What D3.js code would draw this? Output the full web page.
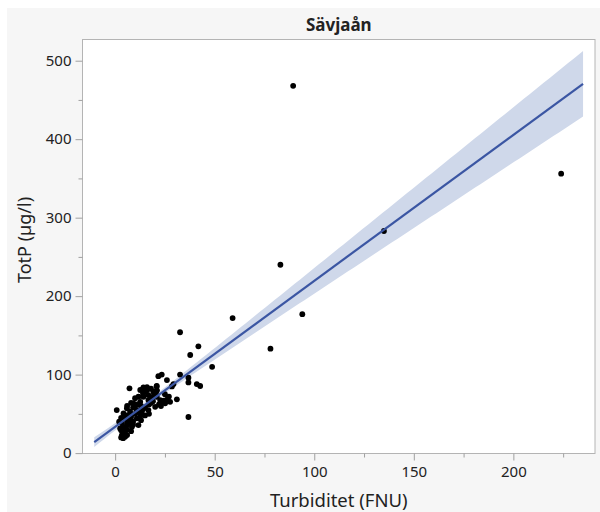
<!DOCTYPE html>
<html>
<head>
<meta charset="utf-8">
<script src="https://cdn.jsdelivr.net/npm/d3@7"></script>
<style>
  html, body { margin: 0; padding: 0; background: #ffffff; }
  svg { display: block; }
  text { font-family: "Noto Sans", "Open Sans", sans-serif; fill: #222; }
</style>
</head>
<body>
<svg id="chart" width="600" height="512"></svg>
<script>
// Sävjaån: total phosphorus vs. turbidity, with linear fit and 95% confidence band
const chartTitle = "Sävjaån";
const xLabel = "Turbiditet (FNU)";
const yLabel = "TotP (µg/l)";

const xTicks = [0, 50, 100, 150, 200];
const xMinorTicks = [25, 75, 125, 175, 225];
const yTicks = [0, 100, 200, 300, 400, 500];
const yMinorTicks = [50, 150, 250, 350, 450];

// Turbidity (FNU) per sample
const turbidity = [
  89.4, 224, 135, 83, 94, 59, 78, 32.6, 41.8, 37.7, 48.7, 36.8,
  32.6, 23.4, 21.7, 26, 36.8, 36.8, 41, 42.7, 29.3, 28.5, 31, 24.7, 23, 20.8, 21, 20.5,
  7.2, 14.2, 12.6, 20.9, 11.7, 14.2, 16.7, 19.2, 20.9, 22.6, 24.2, 27.6, 25.1, 9.2,
  12.6, 16.7, 5.9, 7.5, 10.9, 13.4, 16.7, 20.1, 4.2, 5, 7.5, 10.9, 12.6, 3.4,
  5.9, 8.4, 2.5, 4.2, 3.4, 5, 11.7, 0.8,
  6, 8, 9, 10, 11, 13, 15, 17, 18, 19, 14, 15, 16, 18, 19, 6, 7, 9, 10, 12, 14,
  3, 4, 6, 8, 9, 2, 13, 15, 17, 22, 23, 26, 18, 16, 10, 8, 6, 25, 27, 3, 5, 6, 3, 4
];
// Total phosphorus (µg/l) per sample
const totP = [
  468, 356, 283, 240, 177, 172, 133, 154, 136, 125, 110, 46,
  100, 100, 98, 93, 96, 90, 88, 85.5, 88, 85, 68.5, 65.4, 65.4, 85, 80, 77,
  82.5, 83.8, 80.4, 85.5, 71.8, 71.8, 74, 78.2, 71.8, 67.6, 66.7, 65.4, 63.4, 63.4,
  65.4, 67.6, 57, 52.7, 54.8, 50.5, 54.8, 59, 50.5, 44.3, 42.1, 44.3, 47.2, 37.9,
  35.7, 33.5, 31.5, 27.2, 23, 25.1, 35.7, 54.8,
  48, 46, 58, 60, 62, 60, 58, 62, 64, 66, 76, 78, 80, 70, 72, 40, 38, 40, 50, 52, 56,
  45, 33, 30, 28, 36, 40, 42, 48, 50, 62, 60, 68, 82, 84, 70, 64, 60, 75, 72, 29, 21, 23, 20, 19
];

// Linear fit TotP = intercept + slope * turbidity, and confidence band parameters
const fitIntercept = 33.5;
const fitSlope = 1.86;
const fitRange = [-10.5, 235];
const bandSeAtMean = 3.5;     // half-width of band at mean turbidity
const bandSeSlope = 0.19;     // growth of half-width per unit distance from mean
const turbidityMean = 16;

const W = 600, H = 512;
const frame = { left: 82.5, right: 595, top: 39.5, bottom: 453.5 };

const svg = d3.select("#chart");

// light panel behind the chart
svg.append("rect").attr("x", 7).attr("y", 8).attr("width", W - 7).attr("height", H - 8)
  .attr("fill", "#f6f6f6");

const x = d3.scaleLinear().domain([-16.4, 241]).range([frame.left, frame.right]);
const y = d3.scaleLinear().domain([-0.5, 527]).range([frame.bottom, frame.top]);

// plot area
svg.append("rect")
  .attr("x", frame.left).attr("y", frame.top)
  .attr("width", frame.right - frame.left).attr("height", frame.bottom - frame.top)
  .attr("fill", "#ffffff");

svg.append("defs").append("clipPath").attr("id", "plotClip")
  .append("rect")
  .attr("x", frame.left).attr("y", frame.top)
  .attr("width", frame.right - frame.left).attr("height", frame.bottom - frame.top);

const plot = svg.append("g").attr("clip-path", "url(#plotClip)");

// confidence band
const fitX = d3.range(0, 101).map(i => fitRange[0] + (fitRange[1] - fitRange[0]) * i / 100);
const halfWidth = t => Math.sqrt(bandSeAtMean ** 2 + (bandSeSlope * (t - turbidityMean)) ** 2);
const fitY = t => fitIntercept + fitSlope * t;

plot.append("path")
  .datum(fitX)
  .attr("fill", "#cfd8ea")
  .attr("d", d3.area()
    .x(t => x(t))
    .y0(t => y(fitY(t) - halfWidth(t)))
    .y1(t => y(fitY(t) + halfWidth(t))));

// data points
plot.append("g").selectAll("circle")
  .data(turbidity.map((t, i) => [t, totP[i]]))
  .join("circle")
  .attr("cx", d => x(d[0]))
  .attr("cy", d => y(d[1]))
  .attr("r", 2.9)
  .attr("fill", "#000");

// fit line
plot.append("path")
  .datum(fitRange)
  .attr("fill", "none")
  .attr("stroke", "#3b56a3")
  .attr("stroke-width", 2.2)
  .attr("d", d3.line().x(t => x(t)).y(t => y(fitY(t))));

// frame border
svg.append("rect")
  .attr("x", frame.left).attr("y", frame.top)
  .attr("width", frame.right - frame.left).attr("height", frame.bottom - frame.top)
  .attr("fill", "none").attr("stroke", "#b4b4b4").attr("stroke-width", 1);

// axes
const tickColor = "#a0a0a0";
const xAxis = svg.append("g").attr("transform", `translate(0,${frame.bottom})`);
xAxis.call(d3.axisBottom(x).tickValues(xTicks).tickSize(7).tickPadding(6).tickFormat(d3.format("d")));
xAxis.append("g").call(d3.axisBottom(x).tickValues(xMinorTicks).tickSize(4).tickFormat(""));
xAxis.selectAll(".domain").remove();
xAxis.selectAll("line").attr("stroke", tickColor);
xAxis.selectAll("text").style("font-size", "15px").attr("fill", "#222");

const yAxis = svg.append("g").attr("transform", `translate(${frame.left},0)`);
yAxis.call(d3.axisLeft(y).tickValues(yTicks).tickSize(7).tickPadding(4).tickFormat(d3.format("d")));
yAxis.append("g").call(d3.axisLeft(y).tickValues(yMinorTicks).tickSize(4).tickFormat(""));
yAxis.selectAll(".domain").remove();
yAxis.selectAll("line").attr("stroke", tickColor);
yAxis.selectAll("text").style("font-size", "15px").attr("fill", "#222");

// title and axis labels
svg.append("text")
  .attr("x", (frame.left + frame.right) / 2).attr("y", 31)
  .attr("text-anchor", "middle")
  .style("font-size", "17px").style("font-weight", "bold")
  .text(chartTitle);

svg.append("text")
  .attr("x", (frame.left + frame.right) / 2).attr("y", 507)
  .attr("text-anchor", "middle")
  .style("font-size", "18.5px")
  .text(xLabel);

svg.append("text")
  .attr("transform", `translate(31,${240}) rotate(-90)`)
  .attr("text-anchor", "middle")
  .style("font-size", "18px")
  .text(yLabel);
</script>
</body>
</html>
